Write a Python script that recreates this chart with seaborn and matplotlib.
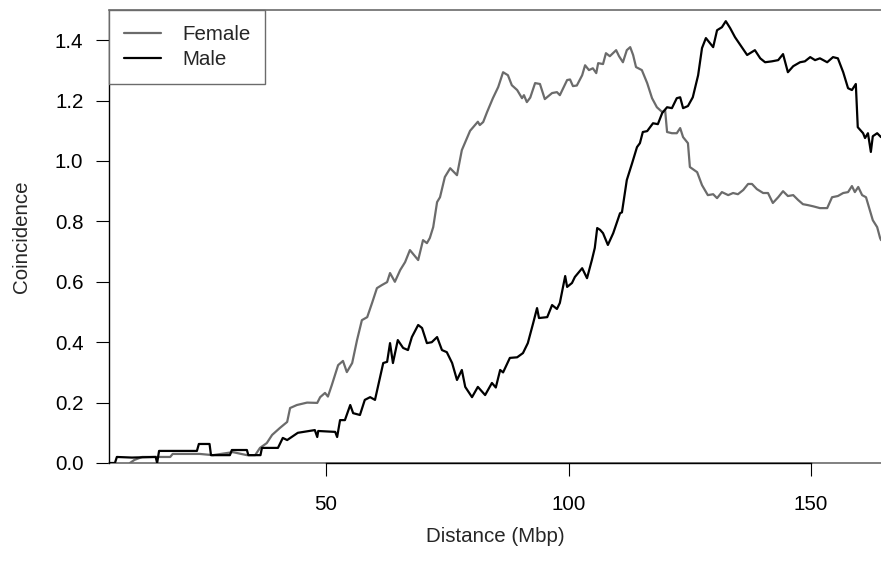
import matplotlib
matplotlib.use("Agg")
import matplotlib.pyplot as plt
import seaborn as sns
import pandas as pd

# Coincidence curves by distance (Mbp)
male_distance = [
    5.3, 6.5, 6.9, 10.0, 14.9, 15.2, 15.6, 23.4, 23.8, 26.0, 26.3, 30.2, 30.6, 33.7, 34.0,
    36.5, 36.8, 40.1, 41.1, 42.0, 44.2, 47.7, 48.2, 48.4, 51.9, 52.3, 52.9, 53.9, 55.0,
    55.6, 57.0, 58.0, 59.1, 60.1, 61.8, 62.6, 63.2, 63.8, 64.8, 65.9, 66.9, 67.7, 69.0,
    69.8, 70.8, 71.8, 72.9, 73.9, 74.9, 76.0, 77.0, 78.0, 78.7, 80.1, 81.3, 82.8, 84.2,
    85.0, 85.9, 86.5, 87.9, 89.4, 90.6, 91.6, 92.7, 93.5, 93.9, 95.6, 96.6, 97.6, 98.2,
    99.3, 99.7, 100.7, 101.3, 102.8, 103.8, 104.8, 105.4, 105.9, 106.5, 107.1, 108.1,
    109.2, 110.6, 111.0, 112.0, 113.1, 114.1, 114.7, 115.3, 116.2, 117.4, 118.4, 119.3,
    120.3, 121.3, 122.3, 123.0, 123.6, 124.6, 125.6, 126.7, 127.5, 128.3, 129.8, 130.6,
    131.6, 132.4, 133.3, 134.3, 135.7, 136.8, 138.4, 139.5, 140.5, 141.9, 143.2, 144.2,
    145.2, 146.3, 147.7, 148.7, 149.8, 150.8, 151.8, 153.3, 154.5, 155.5, 156.6, 157.6,
    158.4, 159.2, 159.6, 160.7, 161.1, 161.7, 162.3, 162.7, 163.6, 164.4,
]
male_coincidence = [
    0.0, 0.0, 0.02, 0.018, 0.02, 0.0, 0.04, 0.04, 0.063, 0.063, 0.026, 0.026, 0.043, 0.043,
    0.026, 0.026, 0.05, 0.05, 0.083, 0.076, 0.1, 0.109, 0.086, 0.106, 0.103, 0.086, 0.142,
    0.142, 0.192, 0.165, 0.159, 0.209, 0.218, 0.209, 0.331, 0.335, 0.397, 0.331, 0.407,
    0.381, 0.374, 0.417, 0.457, 0.447, 0.397, 0.40, 0.417, 0.374, 0.367, 0.331, 0.275,
    0.308, 0.252, 0.218, 0.252, 0.225, 0.265, 0.25, 0.308, 0.30, 0.348, 0.35, 0.364,
    0.397, 0.463, 0.513, 0.48, 0.483, 0.523, 0.51, 0.53, 0.619, 0.583, 0.596, 0.616,
    0.645, 0.612, 0.672, 0.712, 0.778, 0.772, 0.761, 0.722, 0.761, 0.827, 0.83, 0.937,
    0.993, 1.046, 1.059, 1.096, 1.099, 1.125, 1.122, 1.159, 1.178, 1.175, 1.208, 1.211,
    1.175, 1.182, 1.211, 1.284, 1.374, 1.407, 1.377, 1.433, 1.443, 1.463, 1.44, 1.41,
    1.377, 1.351, 1.367, 1.34, 1.327, 1.33, 1.334, 1.354, 1.294, 1.314, 1.327, 1.33,
    1.344, 1.334, 1.34, 1.327, 1.344, 1.34, 1.294, 1.241, 1.235, 1.255, 1.112, 1.092,
    1.076, 1.092, 1.03, 1.082, 1.092, 1.079,
]

female_distance = [
    9.6, 10.5, 12.1, 17.9, 18.4, 24.0, 26.7, 30.8, 33.7, 35.4, 36.4, 37.8, 38.9, 40.5,
    42.0, 42.6, 44.0, 46.1, 48.2, 48.8, 49.8, 50.4, 51.2, 52.5, 53.5, 54.3, 55.4, 56.4,
    57.4, 58.5, 59.5, 60.5, 61.5, 62.6, 63.2, 64.2, 65.3, 66.3, 67.3, 69.0, 70.0, 70.8,
    71.4, 72.1, 72.9, 73.5, 74.5, 75.6, 77.0, 78.0, 79.7, 81.3, 81.7, 82.4, 83.2, 84.4,
    85.5, 86.5, 87.5, 88.3, 89.4, 90.4, 90.8, 91.4, 92.1, 93.1, 94.1, 95.1, 96.6, 97.6,
    98.2, 99.7, 100.3, 100.9, 101.7, 102.8, 103.4, 104.2, 105.0, 105.7, 106.1, 107.1,
    107.7, 108.5, 109.8, 110.4, 111.2, 112.0, 112.7, 113.3, 113.9, 115.1, 116.2, 117.2,
    118.2, 119.3, 119.9, 120.3, 121.3, 122.3, 123.0, 123.6, 124.6, 125.0, 126.5, 127.5,
    128.7, 129.8, 130.6, 131.6, 132.9, 133.9, 134.9, 136.0, 137.0, 137.8, 138.8, 140.1,
    141.1, 142.1, 143.2, 144.2, 145.2, 146.3, 147.3, 148.3, 149.3, 150.4, 151.8, 153.3,
    154.3, 155.5, 156.6, 157.6, 158.4, 159.0, 159.7, 160.5, 161.3, 162.1, 162.7, 163.6,
    164.2, 164.4,
]
female_coincidence = [
    0.0, 0.01, 0.02, 0.02, 0.03, 0.03, 0.026, 0.036, 0.026, 0.026, 0.05, 0.066, 0.093,
    0.116, 0.136, 0.182, 0.192, 0.2, 0.199, 0.218, 0.232, 0.22, 0.258, 0.324, 0.338,
    0.301, 0.331, 0.407, 0.473, 0.483, 0.53, 0.579, 0.589, 0.599, 0.629, 0.60, 0.639,
    0.665, 0.705, 0.672, 0.738, 0.728, 0.745, 0.781, 0.864, 0.88, 0.947, 0.976, 0.953,
    1.036, 1.10, 1.13, 1.119, 1.129, 1.162, 1.208, 1.245, 1.294, 1.284, 1.251, 1.235,
    1.208, 1.218, 1.195, 1.21, 1.258, 1.255, 1.205, 1.225, 1.228, 1.218, 1.268, 1.27,
    1.248, 1.25, 1.284, 1.317, 1.301, 1.307, 1.291, 1.324, 1.321, 1.357, 1.347, 1.367,
    1.347, 1.327, 1.367, 1.377, 1.351, 1.311, 1.301, 1.258, 1.208, 1.178, 1.162, 1.168,
    1.096, 1.092, 1.092, 1.109, 1.079, 1.059, 0.98, 0.963, 0.92, 0.887, 0.89, 0.877,
    0.897, 0.887, 0.894, 0.89, 0.904, 0.924, 0.924, 0.907, 0.894, 0.894, 0.861, 0.88,
    0.90, 0.884, 0.887, 0.871, 0.857, 0.854, 0.85, 0.844, 0.844, 0.88, 0.884, 0.894,
    0.897, 0.917, 0.897, 0.914, 0.887, 0.88, 0.837, 0.804, 0.781, 0.745, 0.738,
]

series_names = ["Female", "Male"]
x_ticks = [50, 100, 150]
y_ticks = [0.0, 0.2, 0.4, 0.6, 0.8, 1.0, 1.2, 1.4]

GRAY = "#6b6b6b"
FS = 14.8

df = pd.concat([
    pd.DataFrame({"Distance": female_distance, "Coincidence": female_coincidence, "Sex": "Female"}),
    pd.DataFrame({"Distance": male_distance, "Coincidence": male_coincidence, "Sex": "Male"}),
], ignore_index=True)

sns.set_style("white")
plt.rcParams["font.family"] = ["Liberation Sans", "DejaVu Sans"]

W, H = 881, 565
fig = plt.figure(figsize=(W / 100, H / 100), dpi=100)
ax = fig.add_axes([109 / W, (H - 463) / H, 772 / W, 453 / H])

ax.axhline(0, color=GRAY, lw=1.2, zorder=1, clip_on=False)

sns.lineplot(data=df, x="Distance", y="Coincidence", hue="Sex", hue_order=series_names,
             palette={"Female": GRAY, "Male": "black"}, estimator=None, lw=1.6, ax=ax)

ax.set_xlim(5.28, 164.39)
ax.set_ylim(0, 1.5)

ax.set_xticks(x_ticks)
ax.set_xticklabels([str(v) for v in x_ticks])
ax.set_yticks(y_ticks)
ax.set_yticklabels([f"{v:.1f}" for v in y_ticks])
ax.tick_params(axis="both", direction="out", length=9.4, width=0.8, color="black",
               labelsize=FS, labelcolor="black")
ax.tick_params(axis="y", pad=9.0, left=True)
ax.tick_params(axis="x", pad=13.5, bottom=True)
ax.yaxis.get_major_ticks()[0].tick1line.set_color(GRAY)

for side in ["left", "bottom", "top"]:
    ax.spines[side].set_visible(True)
ax.spines["right"].set_visible(False)
ax.spines["left"].set_color("black")
ax.spines["left"].set_linewidth(1.0)
ax.spines["top"].set_color(GRAY)
ax.spines["top"].set_linewidth(1.2)
ax.spines["bottom"].set_color("black")
ax.spines["bottom"].set_linewidth(1.0)
ax.spines["bottom"].set_bounds(50, 150)

ax.set_xlabel("Distance (Mbp)", fontsize=FS, va="center")
ax.set_ylabel("Coincidence", fontsize=FS, va="center")
ax.xaxis.set_label_coords(0.5, -74 / 453)
ax.yaxis.set_label_coords(-87 / 772, 0.5)

leg = ax.legend(loc="upper left", fontsize=FS, frameon=True, fancybox=False,
                borderaxespad=0, borderpad=0.72, handlelength=1.8, handletextpad=1.05,
                labelspacing=0.3, title=None)
leg.get_frame().set_edgecolor(GRAY)
leg.get_frame().set_linewidth(1.0)
leg.get_frame().set_alpha(1)
for line in leg.get_lines():
    line.set_linewidth(1.6)

fig.savefig("out.png", dpi=100)
